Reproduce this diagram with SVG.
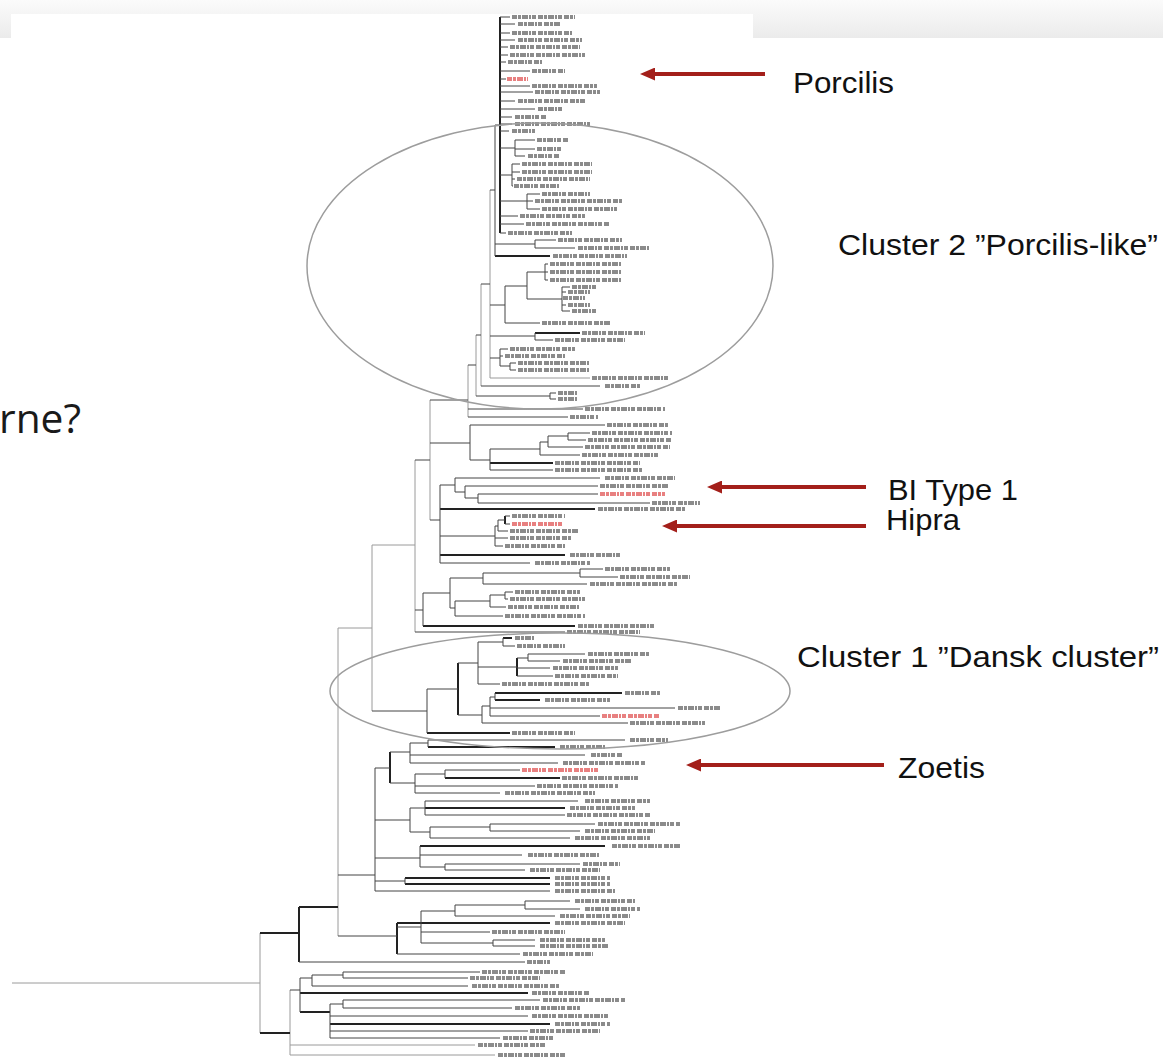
<svg xmlns="http://www.w3.org/2000/svg" width="1163" height="1060" viewBox="0 0 1163 1060">
<defs>
<linearGradient id="band" x1="0" y1="0" x2="0" y2="1"><stop offset="0" stop-color="#fbfbfb"/><stop offset="1" stop-color="#ebebeb"/></linearGradient>
<marker id="ah" markerUnits="userSpaceOnUse" markerWidth="15" markerHeight="13" viewBox="0 0 15 13" refX="2" refY="6.5" orient="auto"><path d="M0 0L15 6.5L0 13z" fill="#a31f1a"/></marker>
<style>
.t{fill:none;stroke:#222;stroke-width:2}
.n{fill:none;stroke:#444;stroke-width:1}
.g{fill:none;stroke:#9a9a9a;stroke-width:1}
.lb{fill:none;stroke:#5a5a5a;stroke-width:4;stroke-dasharray:5 1 3 1 6 1 2 1 4 2;opacity:.7}
.lr{fill:none;stroke:#e46a6a;stroke-width:4;stroke-dasharray:5 1 3 1 6 1 2 1 4 2;opacity:.85}
.ell{fill:none;stroke:#9d9d9d;stroke-width:1.5}
.ann{font-family:"Liberation Sans",Arial,sans-serif;font-size:30px;fill:#111}
.arr{fill:none;stroke:#a31f1a;stroke-width:4}
</style>
</defs>
<rect x="0" y="0" width="1163" height="1060" fill="#fff"/>
<rect x="0" y="0" width="1163" height="38" fill="url(#band)"/>
<rect x="11" y="14" width="742" height="24" fill="#fff"/>
<text x="-1" y="433" font-family="Open Sans,'Noto Sans',sans-serif" font-size="40" fill="#1a1a1a" textLength="82" lengthAdjust="spacingAndGlyphs">rne?</text>
<g id="tree">
<path class="g" d="M12 983H260M260 933V1033M290 990V1055M338 628V936M372 545V711M415 460V632M490 190V378M481 284V386M476 335V396M468 365V417M430 400V520M290 1055H495M290 1045H475M338 628H372M372 545H415M490 378H590"/>
<path class="t" d="M500 17V233M495 256H550M535 333H580M490 463H553M440 509H595M505 516V524M440 555H565M423 626H575M503 638H512M517 658V676M495 693H622M495 700H540M458 663V715M427 733H510M428 747H555M445 778H560M390 752V783M425 808H565M420 846H605M405 878H550M405 884H550M397 923H550M397 923V954M299 907H338M299 907V962M260 933H299M300 993H528M300 1012H330M330 1024H550M260 1033H290"/>
<path class="n" d="M500 17H510M500 24H515M500 33H510M500 40H515M500 47H508M500 55H508M500 62H506M500 71H530M500 79H506M500 86H530M500 92H533M500 101H515M500 109H535M500 117H512M500 124H512M500 131H509
M515 140H535M515 149H535M515 156H525M515 140V156M500 148H515
M512 164H520M512 172H520M512 179H515M512 186H513M512 164V186M500 175H512
M527 194H540M527 201H533M527 209H540M527 194V209M500 201H527
M500 216H518M500 224H524M500 233H506
M495 125V256M495 125H500
M535 240H556M535 248H575M535 240V248M495 244H535
M490 190H495
M545 264H548M545 272H548M545 280H548M545 264V280M527 272H545
M562 287H570M562 292H566M562 305H566M562 311H570M562 287V311M527 299H562
M527 272V299M505 286H527M505 323H540M505 286V323M490 305H505
M535 340H553M535 333V340M490 336H535
M500 349H508M500 356H503M510 363H516M510 370H516M510 363V370M500 366H510M500 349V366M490 358H500
M481 284H490M481 386H600
M476 335H481M550 393H556M550 399H556M550 393V399M476 396H550
M468 365H476M468 409H583M468 417H568
M430 400H468
M470 425V460M430 443H470M470 425H605
M568 433H590M568 440H586M568 433V440M548 436H568
M548 447H583M548 436V447M540 442H548
M540 455H580M540 442V455M490 449H540
M490 470H553M490 449V470M470 460H490
M440 485V563M430 520H440
M455 478H600M465 486H598M478 494H598M478 503H650M478 494V503M465 498H478M465 486V498M455 492H465M455 478V492M440 485H455
M505 516H510M505 524H510M498 520H505M498 531H508M498 520V531M495 526H498M495 538H508M495 546H503M495 526V546M440 536H495
M440 563H530
M415 460H430M415 610H423M415 632H565
M423 593V626
M580 569H603M580 577H618M580 569V577M483 573H580M483 584H587M483 573V584M450 578H483
M505 592H513M505 599H508M505 592V599M490 595H505M490 607H506M490 595V607M455 601H490M455 616H503M455 601V616M450 608H455M450 578V608M423 593H450
M503 646H515M503 638V646M478 642H503
M528 654H585M528 661H560M528 654V661M517 658H528M517 668H550M517 676H553M478 667H517
M478 684H500M478 642V684M458 663H478
M490 708H675M490 716H600M490 697V716M495 693V700M490 697H495M482 706H490M482 723H628M482 706V723M458 715H482
M427 689H458M427 689V733M372 711H427
M375 768V891M338 875H375
M428 740H625M428 740V747M410 743H428M410 755H585M410 763H558M410 743V763M390 752H410
M445 770H520M445 770V778M415 774H445M415 786H535M415 793H500M415 774V793M390 783H415M375 768H390
M425 801H578M425 815H565M425 801V815M410 808H425
M490 824H595M490 831H580M490 824V831M430 827H490M430 838H570M430 827V838M410 832H430M410 808V832M375 820H410
M420 855H522M445 864H580M445 870H525M445 864V870M420 867H445M420 846V867M375 858H420
M405 878V884M375 881H405M375 891H550
M525 901H570M525 909H580M525 901V909M455 905H525M455 916H555M455 905V916M421 911H455M421 932H490M493 940H535M493 946H535M493 940V946M421 943H493M421 911V943M397 927H421M397 954H520M338 936H397
M299 962H525
M290 990H300M300 978V1012M300 978H312M312 975V986M312 975H343M343 972V978M343 972H480M343 978H468M312 986H468
M330 1004V1038M343 1000H540M343 1008H512M343 1000V1008M330 1004H343M330 1016H528M330 1031H528M330 1038H500"/>
<path class="lb" d="M512 17H575M518 24H560M512 33H572M518 40H582M510 47H580M510 55H585M508 62H542M532 71H565M532 86H597M535 92H600M518 101H585M538 109H563M515 117H546M515 124H590M512 131H535M537 140H568M537 149H562M528 156H560M522 164H592M522 172H592M517 179H590M514 186H560M542 194H590M535 201H622M542 209H617M520 216H585M526 224H609M508 233H572M558 240H622M578 248H650M553 256H627M550 264H621M550 272H621M550 280H621M572 287H598M568 292H590M563 298H585M568 305H590M572 311H598M542 323H610M582 333H645M555 340H625M510 349H575M505 356H565M518 363H590M518 370H590M592 378H668M605 386H640M558 393H578M558 399H578M585 409H665M570 417H598
M607 425H668M592 433H672M588 440H672M585 447H670M582 455H660M555 463H640M555 470H642M605 478H675M600 486H668M652 503H700M598 509H685M512 516H565M510 531H578M510 538H572M505 546H565M570 555H620M535 563H590M605 569H670M620 577H690M590 584H677M515 592H580M510 599H585M508 607H580M505 616H585M578 626H655M567 632H640
M515 638H535M517 646H565M588 654H650M563 661H632M553 668H618M555 676H618M502 684H590M625 693H660M545 700H610M678 708H720M630 723H705M512 733H575M630 740H668M560 747H605M591 755H623M563 763H645M562 778H640M537 786H618M505 793H595M585 801H650M570 808H635M567 815H650M598 824H680M585 831H655M575 838H650M612 846H680M528 855H600M583 864H620M530 870H600M555 878H610M555 884H610M555 891H615M575 901H635M585 909H640M560 916H630M555 923H625M492 932H565M540 940H605M540 946H608M523 954H593M527 962H550M482 972H565M470 978H540M472 986H560M532 993H590M543 1000H625M515 1008H580M532 1016H610M555 1024H610M530 1031H600M503 1038H555M478 1045H545M498 1055H565"/>
<path class="lr" d="M507 79H528M600 494H665M512 524H562M602 716H660M522 770H600"/>
</g>
<g id="cluster2-outline"><ellipse class="ell" cx="540" cy="266" rx="233" ry="143"/></g>
<g id="cluster1-outline"><ellipse class="ell" cx="560" cy="691" rx="230" ry="58"/></g>
<g id="label-porcilis"><text class="ann" x="793" y="93" textLength="101" lengthAdjust="spacingAndGlyphs">Porcilis</text></g>
<g id="label-cluster2"><text class="ann" x="838" y="255" textLength="320" lengthAdjust="spacingAndGlyphs">Cluster 2 ”Porcilis-like”</text></g>
<g id="label-bitype1"><text class="ann" x="888" y="500" textLength="130" lengthAdjust="spacingAndGlyphs">BI Type 1</text></g>
<g id="label-hipra"><text class="ann" x="886" y="530" textLength="74" lengthAdjust="spacingAndGlyphs">Hipra</text></g>
<g id="label-cluster1"><text class="ann" x="797" y="667" textLength="362" lengthAdjust="spacingAndGlyphs">Cluster 1 ”Dansk cluster”</text></g>
<g id="label-zoetis"><text class="ann" x="898" y="778" textLength="87" lengthAdjust="spacingAndGlyphs">Zoetis</text></g>
<g id="connectors">
<path class="arr" marker-end="url(#ah)" d="M765 74H653"/>
<path class="arr" marker-end="url(#ah)" d="M866 487H720"/>
<path class="arr" marker-end="url(#ah)" d="M866 526H675"/>
<path class="arr" marker-end="url(#ah)" d="M884 765H699"/>
</g>
</svg>
